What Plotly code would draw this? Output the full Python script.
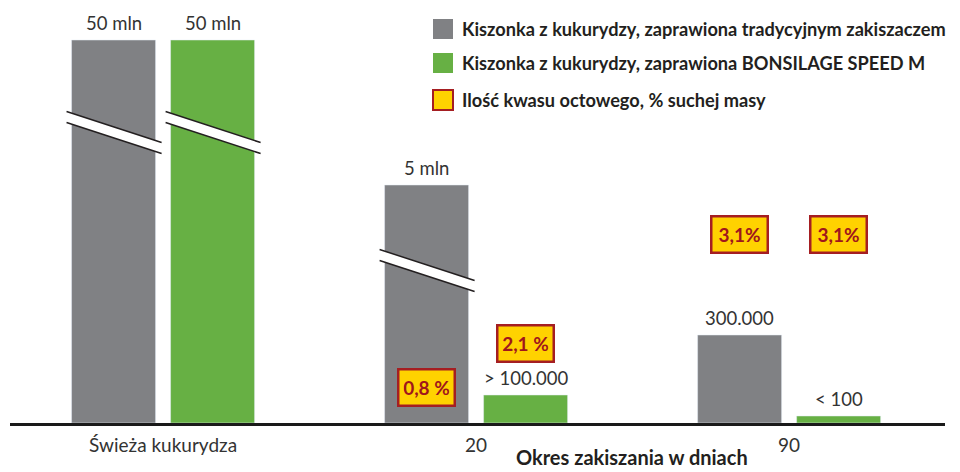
import plotly.graph_objects as go

# ---- data ----
categories = ["Świeża kukurydza", "20", "90"]
series_names = [
    "Kiszonka z kukurydzy, zaprawiona tradycyjnym zakiszaczem",
    "Kiszonka z kukurydzy, zaprawiona BONSILAGE SPEED M",
]
acid_legend = "Ilość kwasu octowego, % suchej masy"
# displayed (broken-scale) bar heights
traditional_height = [383, 238, 88]
bonsilage_height = [383, 28, 7]
traditional_labels = ["50 mln", "5 mln", "300.000"]
bonsilage_labels = ["50 mln", "> 100.000", "< 100"]
traditional_acid = [None, "0,8 %", "3,1%"]
bonsilage_acid = [None, "2,1 %", "3,1%"]
traditional_broken = [True, True, False]
bonsilage_broken = [True, False, False]
x_title = "Okres zakiszania w dniach"

# ---- style / layout ----
W, H = 960, 472
OFF = 8  # page body margin
PL, PR, PT, PB = 10, 945, 10, 423  # plot area in page pixels
ML, MT = PL - OFF, PT - OFF
PW, PH = PR - PL, PB - PT
MR = W - ML - PW
MB = H - MT - PH
XR = [-0.489, 2.498]
UNIT = PW / (XR[1] - XR[0])  # px per category unit
GRAY = "#808184"
GREEN = "#67B044"
YEL = "#FFD200"
RED = "#A51E22"
TXT = "#333333"
DARK = "#231F20"
FONT = "Lato"
BARGAP = 0.3674
GROUPGAP = 0.1515

fig = go.Figure()
fig.add_bar(x=categories, y=traditional_height, marker_color=GRAY, name=series_names[0])
fig.add_bar(x=categories, y=bonsilage_height, marker_color=GREEN, name=series_names[1])

group_w = 1 - BARGAP
slot = group_w / 2
bar_w = slot * (1 - GROUPGAP)

def bar_center(i, s):
    return i - group_w / 2 + slot * (s + 0.5)

annotations = []
shapes = []
for s, (hts, labs, brk) in enumerate([
    (traditional_height, traditional_labels, traditional_broken),
    (bonsilage_height, bonsilage_labels, bonsilage_broken),
]):
    for i in range(len(categories)):
        xc = bar_center(i, s)
        annotations.append(dict(x=xc, y=hts[i], xref="x", yref="y", text=labs[i],
                                showarrow=False, yanchor="bottom", yshift=4,
                                font=dict(family=FONT, size=18.5, color=TXT)))
        if brk[i]:
            xl = xc - bar_w / 2 - 5 / UNIT
            xr = xc + bar_w / 2 + 6 / UNIT
            ymid = hts[i] - 77 if i == 0 else hts[i] - 70
            drop = 31
            gap = 11
            ytl, ytr = ymid + gap / 2, ymid + gap / 2 - drop
            ybl, ybr = ymid - gap / 2, ymid - gap / 2 - drop
            shapes.append(dict(type="path", xref="x", yref="y",
                               path=f"M{xl},{ytl} L{xr},{ytr} L{xr},{ybr} L{xl},{ybl} Z",
                               fillcolor="white", line=dict(width=0)))
            for (ya, yb) in [(ytl, ytr), (ybl, ybr)]:
                shapes.append(dict(type="line", xref="x", yref="y", x0=xl, y0=ya, x1=xr, y1=yb,
                                   line=dict(color=DARK, width=1.5)))

acid_levels = {(0, 1): 36, (1, 1): 80, (0, 2): 189, (1, 2): 189}
for s, acids in enumerate([traditional_acid, bonsilage_acid]):
    for i, a in enumerate(acids):
        if a is None:
            continue
        annotations.append(dict(x=bar_center(i, s), y=acid_levels[(s, i)], xref="x", yref="y",
                                text=f"<b>{a}</b>", showarrow=False, width=46, height=26,
                                xanchor="center", yanchor="middle",
                                bgcolor=YEL, bordercolor=RED, borderwidth=2.5, borderpad=4,
                                font=dict(family=FONT, size=19, color="#A0161C")))

def px(xp):
    return (xp - PL) / PW

def py(yp):
    return (PB - yp) / PH

# x axis title
annotations.append(dict(x=px(632), y=py(471), xref="paper", yref="paper",
                        xanchor="center", yanchor="bottom",
                        text=f"<b>{x_title}</b>", showarrow=False,
                        font=dict(family=FONT, size=20, color=DARK)))

# legend (manual)
legend_items = [(series_names[0], GRAY, None, 29), (series_names[1], GREEN, None, 63),
                (acid_legend, YEL, RED, 100)]
for text, fill, border, yc in legend_items:
    shapes.append(dict(type="rect", xref="paper", yref="paper",
                       x0=px(433), x1=px(453), y0=py(yc + 10), y1=py(yc - 10),
                       fillcolor=fill,
                       line=dict(color=border if border else fill, width=2 if border else 0)))
    annotations.append(dict(x=px(460), y=py(yc), xref="paper", yref="paper",
                            xanchor="left", yanchor="middle",
                            text=f"<b>{text}</b>", showarrow=False,
                            font=dict(family=FONT, size=18.2, color=DARK)))

fig.update_layout(
    width=W, height=H, margin=dict(l=ML, r=MR, t=MT, b=MB),
    paper_bgcolor="white", plot_bgcolor="white",
    barmode="group", bargap=BARGAP, bargroupgap=GROUPGAP,
    showlegend=False, shapes=shapes, annotations=annotations,
    xaxis=dict(range=XR, showline=True, linecolor="#1a1a1a", linewidth=2.5, ticks="",
               ticklabelstandoff=3,
               tickfont=dict(family=FONT, size=19, color=TXT), showgrid=False, fixedrange=True),
    yaxis=dict(range=[0, PH], visible=False, showgrid=False, zeroline=False, fixedrange=True),
)
fig.write_html("out.html")
